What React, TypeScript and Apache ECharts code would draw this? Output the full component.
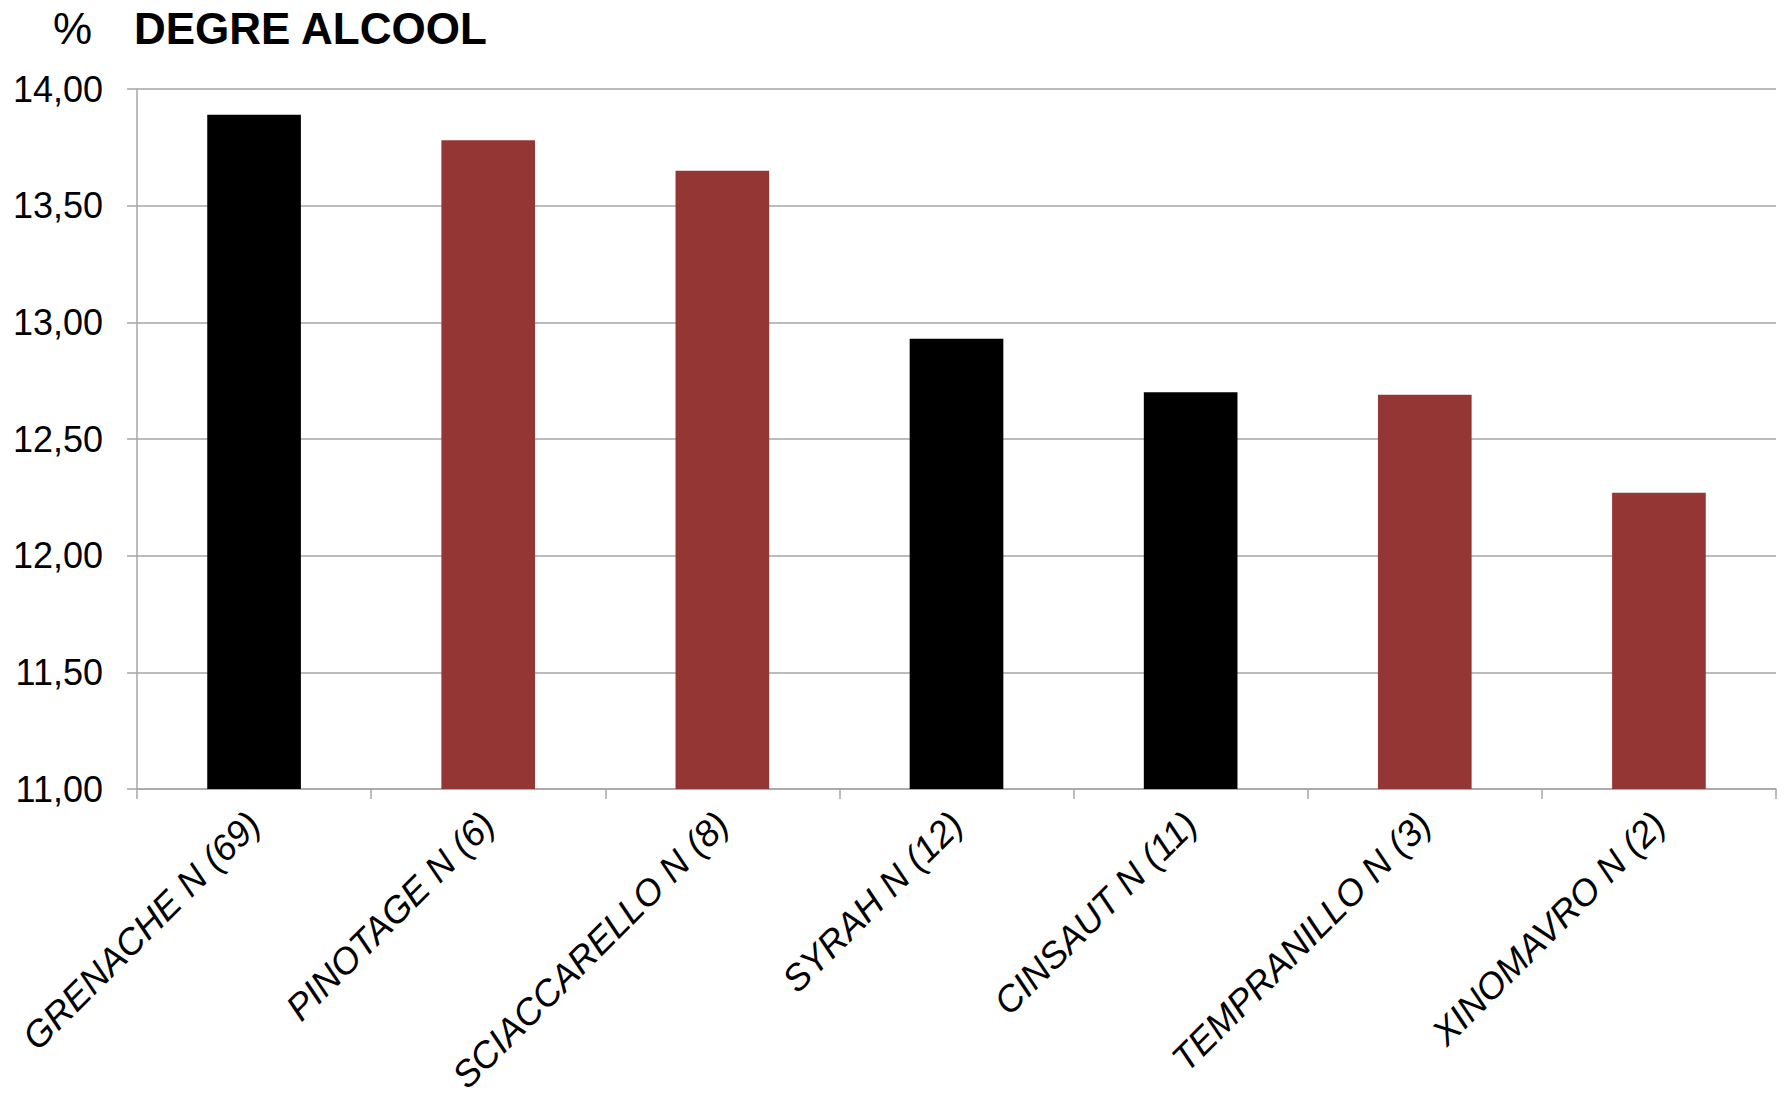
import React, { useEffect, useRef } from "react";
import * as echarts from "echarts";

// Grape varieties (number of samples in brackets)
const categories = [
  "GRENACHE N (69)",
  "PINOTAGE N (6)",
  "SCIACCARELLO N (8)",
  "SYRAH N (12)",
  "CINSAUT N (11)",
  "TEMPRANILLO N (3)",
  "XINOMAVRO N (2)",
];

// Mean alcohol content, % vol.
const alcoholValues = [13.89, 13.78, 13.65, 12.93, 12.7, 12.69, 12.27];

// Bar colour for each variety
const barColors = [
  "#000000",
  "#943634",
  "#943634",
  "#000000",
  "#000000",
  "#943634",
  "#943634",
];

const FONT = "'Liberation Sans', Arial, sans-serif";
const GRID_GRAY = "#a6a6a6";

export default function App() {
  const ref = useRef<HTMLDivElement>(null);

  useEffect(() => {
    if (!ref.current) return;
    const chart = echarts.init(ref.current, null, { renderer: "svg" });
    chart.setOption({
      animation: false,
      backgroundColor: "#ffffff",
      graphic: [
        {
          type: "text",
          left: 53,
          top: 6,
          style: {
            text: "%",
            fontFamily: FONT,
            fontSize: 44,
            fill: "#000",
          },
        },
        {
          type: "text",
          left: 134,
          top: 6,
          style: {
            text: "DEGRE ALCOOL",
            fontFamily: FONT,
            fontSize: 44,
            fontWeight: "bold",
            fill: "#000",
          },
        },
      ],
      grid: {
        left: 137,
        right: 11,
        top: 89,
        bottom: 315,
        containLabel: false,
        outerBoundsMode: "none",
      },
      xAxis: {
        type: "category",
        data: categories,
        axisLine: { show: true, lineStyle: { color: GRID_GRAY, width: 1.5 } },
        axisTick: {
          show: true,
          alignWithLabel: false,
          length: 10,
          lineStyle: { color: GRID_GRAY, width: 1.5 },
        },
        axisLabel: {
          rotate: 45,
          interval: 0,
          margin: 29,
          fontFamily: FONT,
          fontSize: 36.5,
          fontStyle: "italic",
          color: "#000",
        },
        splitLine: { show: false },
      },
      yAxis: {
        type: "value",
        min: 11,
        max: 14,
        interval: 0.5,
        axisLine: { show: true, lineStyle: { color: GRID_GRAY, width: 1.5 } },
        axisTick: {
          show: true,
          length: 10,
          lineStyle: { color: GRID_GRAY, width: 1.5 },
        },
        axisLabel: {
          margin: 34,
          fontFamily: FONT,
          fontSize: 36,
          color: "#000",
          formatter: (v: number) => v.toFixed(2).replace(".", ","),
        },
        splitLine: { show: true, lineStyle: { color: GRID_GRAY, width: 1.5 } },
      },
      series: [
        {
          type: "bar",
          data: alcoholValues.map((v, i) => ({
            value: v,
            itemStyle: { color: barColors[i] },
          })),
          barWidth: "40%",
        },
      ],
    });
    return () => chart.dispose();
  }, []);

  return (
    <div
      ref={ref}
      style={{
        position: "fixed",
        left: 0,
        top: 0,
        width: 1787,
        height: 1104,
        background: "#fff",
      }}
    />
  );
}
